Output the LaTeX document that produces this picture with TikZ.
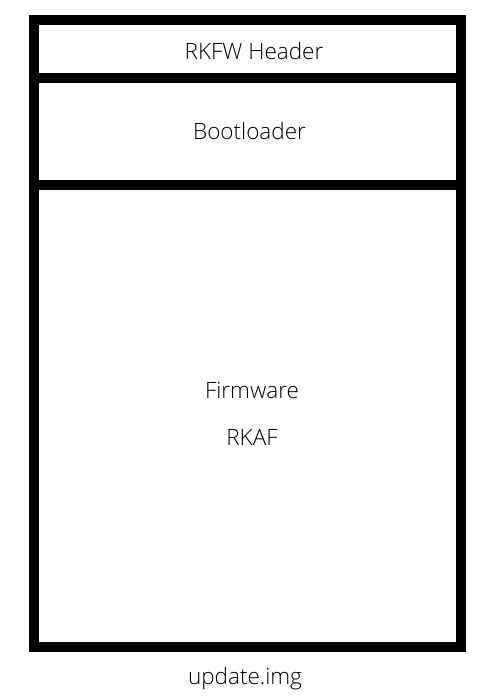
\documentclass[tikz,border=0pt]{standalone}
\usepackage{fontspec}
\setmainfont{Open Sans}[UprightFont=* Light]
\begin{document}
\begin{tikzpicture}[x=1pt, y=1pt, line cap=rect, line join=miter]
	\tikzset{frame/.style={draw=black, line width=10pt},
		label/.style={anchor=base, inner sep=0pt, font=\fontsize{22.5}{26}\selectfont}}
	\useasboundingbox (0,0) rectangle (483,700);
	%Coordinates
	%Outer Frame Corners
	\coordinate (a1) at (34,680);
	\coordinate (a2) at (461,680);
	\coordinate (a3) at (461,53);
	\coordinate (a4) at (34,53);

	%Divider Ends
	\coordinate (d1) at (34,621.5);
	\coordinate (d2) at (461,621.5);
	\coordinate (d3) at (34,515);
	\coordinate (d4) at (461,515);

	%Frame
	\path[frame] (a1) -- (a2) -- (a3) -- (a4) -- cycle;
	\draw[frame, line cap=butt] (d1) -- (d2);
	\draw[frame, line cap=butt] (d3) -- (d4);

	%Labels
	\node[label] (header) at (254,640) {RKFW Header};
	\node[label] (boot) at (249.5,560) {Bootloader};
	\node[label] (fw) at (252,301) {Firmware};
	\node[label] (rkaf) at (252,254) {RKAF};
	\node[label] (img) at (245,15) {update.img};

    \end{tikzpicture}
\end{document}
